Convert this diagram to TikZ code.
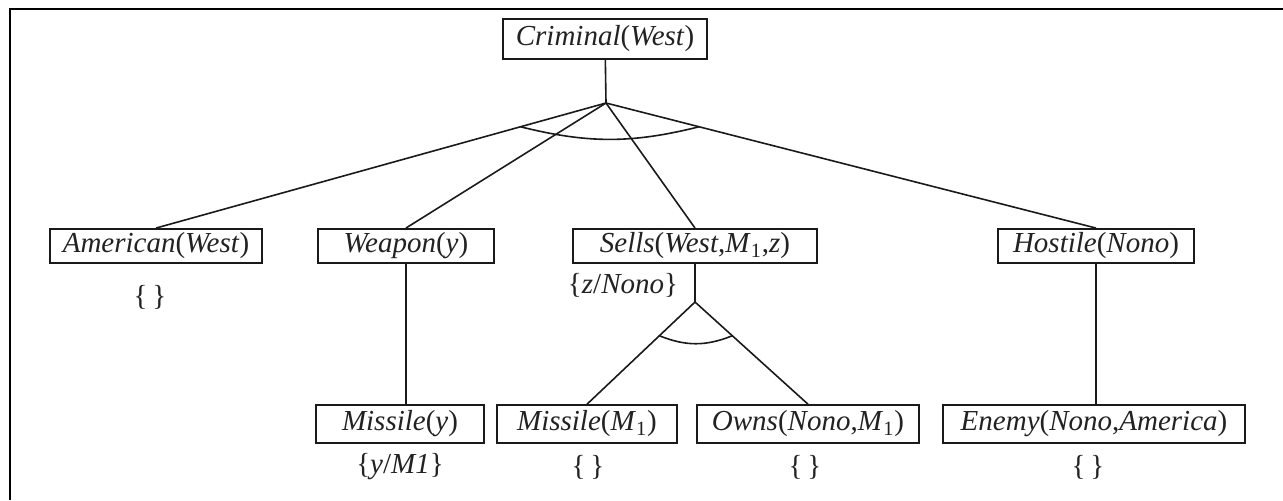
\documentclass[tikz,border=0pt]{standalone}
\usepackage{fontspec}
\setmainfont{Liberation Serif}
\usetikzlibrary{
  positioning,
  calc,
}
\definecolor{border}{HTML}{1A1A1A}
\definecolor{textCol}{HTML}{222222}
\definecolor{frameCol}{HTML}{000000}
\newcommand{\pred}[2]{\textit{#1}(\textit{#2})}
\tikzset{
  goalbox/.style={
    rectangle, draw=border, fill=white, text=textCol,
    font=\fontsize{14.5}{17}\selectfont,
    minimum height=16.5pt, inner sep=2pt, line width=0.8pt,
  },
  leafbox/.style={goalbox, minimum height=19pt},
  substlabel/.style={font=\fontsize{14.5}{17}\selectfont, text=textCol},
  link/.style={border, line width=0.8pt},
  andarc/.style={border, line width=0.8pt},
  frameline/.style={frameCol, line width=1.3pt},
}

\begin{document}
\begin{tikzpicture}[x=0.5pt, y=-0.5pt]
  \useasboundingbox (0,0) rectangle (1283,500);

  % Frame
  \draw[frameline] (10,500) -- (10,9) -- (1283,9);

  % Goal
  \node[goalbox, minimum width=102pt, minimum height=20pt] (crim) at (605,39) {\pred{Criminal}{West}};
  \coordinate (jtop) at (606,103);

  % Subgoals
  \node[goalbox, minimum width=106pt] (amer) at (156,246) {\pred{American}{West}};
  \node[goalbox, minimum width=88pt] (weap) at (406,246) {\pred{Weapon}{y}};
  \node[goalbox, minimum width=122pt] (sells) at (695,246) {\textit{Sells}(\textit{West},\textit{M}\textsubscript{1},\textit{z})};
  \node[goalbox, minimum width=98pt] (host) at (1096,246) {\pred{Hostile}{Nono}};
  \coordinate (jsell) at (695,302);

  % Leaves
  \node[leafbox, minimum width=84pt] (misy) at (400,424) {\pred{Missile}{y}};
  \node[leafbox, minimum width=90pt] (mism) at (587,424) {\textit{Missile}(\textit{M}\textsubscript{1})};
  \node[leafbox, minimum width=111pt] (owns) at (808,424) {\textit{Owns}(\textit{Nono},\textit{M}\textsubscript{1})};
  \node[leafbox, minimum width=151pt] (enemy) at (1094,424) {\textit{Enemy}(\textit{Nono},\textit{America})};

  % Links
  \draw[link] (crim) -- (jtop);
  \foreach \g in {amer, weap, sells, host}
    \draw[link] (jtop) -- (\g.north);
  \draw[link] (sells) -- (jsell);
  \draw[link] (jsell) -- (mism.north);
  \draw[link] (jsell) -- (owns.north);
  \draw[link] (weap.south) -- (weap.south |- misy.north);
  \draw[link] (host.south) -- (host.south |- enemy.north);

  % And-arcs
  \draw[andarc] ($(jtop)!0.19!(amer.north)$) to[bend right=14] ($(jtop)!0.19!(host.north)$);
  \draw[andarc] ($(jsell)!0.33!(mism.north)$) to[bend right=22] ($(jsell)!0.33!(owns.north)$);

  % Substitutions
  \node[substlabel] (s_amer) at (150,297) {\{\,\}};
  \node[substlabel] (s_sells) at (623,285) {\{\textit{z}/\textit{Nono}\}};
  \node[substlabel] (s_misy) at (400,467) {\{\textit{y}/\textit{M1}\}};
  \node[substlabel] (s_mism) at (588,467) {\{\,\}};
  \node[substlabel] (s_owns) at (805,467) {\{\,\}};
  \node[substlabel] (s_enemy) at (1088,467) {\{\,\}};

\end{tikzpicture}
\end{document}
